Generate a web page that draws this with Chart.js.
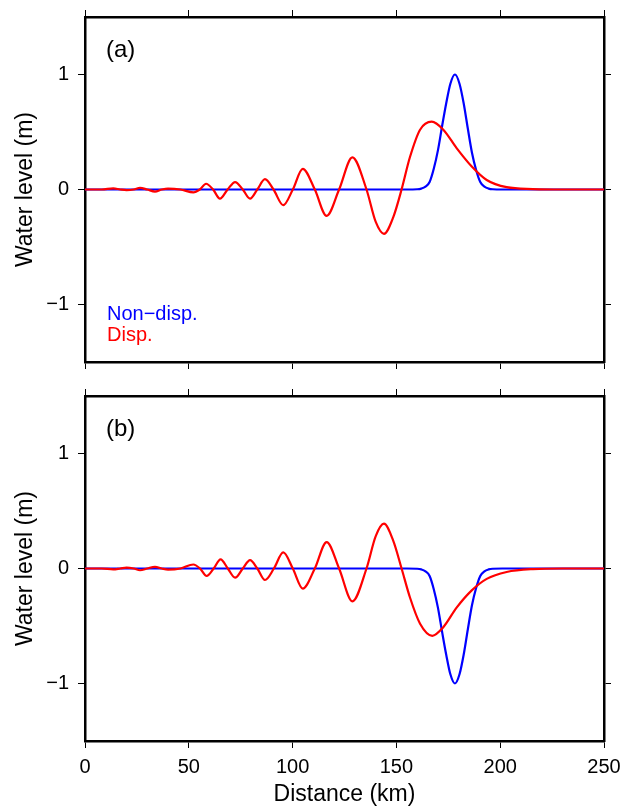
<!DOCTYPE html>
<html lang="en">
<head>
<meta charset="UTF-8">
<title>Water level - dispersive vs non-dispersive</title>
<script src="https://cdn.jsdelivr.net/npm/chart.js"></script>
<style>
  body { margin: 0; background: #fff; }
  .panel { position: absolute; left: 0; width: 622px; }
</style>
</head>
<body>
<div class="panel" style="top:0;height:385px"><canvas id="chartA" width="622" height="385"></canvas></div>
<div class="panel" style="top:385px;height:421px"><canvas id="chartB" width="622" height="421"></canvas></div>
<script>
// axis ticks
const xTicks = [0, 50, 100, 150, 200, 250];
const yTicks = [-1, 0, 1];

// non-dispersive wave, same distances in both panels
const nonDispKm     = [0, 155, 160,   162,   164,   166,   168,  170,  172,  174,  176,  178.2, 180.4, 182.4, 184.4, 186.4, 188.4, 190.4,  192.4,  194.4,  196.4,  201, 250];
const nonDispLevelA = [0, 0,   0.002, 0.008, 0.025, 0.065, 0.18, 0.34, 0.55, 0.75, 0.92, 1,     0.92,  0.75,  0.53,  0.32,  0.17,  0.065,  0.025,  0.008,  0.002,  0,   0];
const nonDispLevelB = [0, 0,  -0.002,-0.008,-0.025,-0.065,-0.18,-0.34,-0.55,-0.75,-0.92,-1,    -0.92, -0.75, -0.53, -0.32, -0.17, -0.065, -0.025, -0.008, -0.002,  0,   0];

// dispersive wave, panel (a)
const dispKmA = [0, 8, 13.6, 17, 20, 23.5, 26.5, 30, 33.7, 37, 40, 46,
                 52.2, 55.3, 58.3, 61.7, 65, 68.7, 72.3, 76, 79.5, 83, 86.7, 90.8,
                 95.5, 100.1, 104.9, 110.7, 116.4, 122.4, 128.8, 135.6, 140, 144, 148.5, 152.5,
                 156.5, 161.4, 167, 172.6, 179, 186.3, 193.5, 203.1, 215.8, 230, 250];
const dispLevelA = [0, 0, 0.01, 0, -0.006, 0, 0.015, 0, -0.018, 0, 0.008, 0,
                    -0.025, 0, 0.05, 0, -0.08, 0, 0.065, 0, -0.08, 0, 0.09, 0,
                    -0.136, 0, 0.18, 0, -0.23, 0, 0.28, 0, -0.28, -0.385, -0.24, 0,
                    0.28, 0.52, 0.59, 0.52, 0.36, 0.2, 0.083, 0.02, 0.004, 0, 0];

// dispersive wave, panel (b)
const dispKmB = [0, 8, 13.6, 17, 20, 23.5, 26.5, 30, 33.7, 37, 40, 46,
                 52.2, 55.4, 58.6, 62, 65.3, 68.8, 72.3, 76, 79.5, 83, 86.7, 91,
                 95.5, 100.1, 104.9, 110.7, 116.4, 122.4, 128.8, 135.6, 140, 144, 148.5, 152.5,
                 156.5, 161.4, 167.3, 172.6, 179, 186.3, 193.5, 203.1, 215.8, 230, 250];
const dispLevelB = [0, 0, -0.008, 0, 0.008, 0, -0.015, 0, 0.015, 0, -0.01, 0,
                    0.035, 0, -0.065, 0, 0.08, 0, -0.08, 0, 0.073, 0, -0.1, 0,
                    0.14, 0, -0.175, 0, 0.23, 0, -0.285, 0, 0.28, 0.39, 0.24, 0,
                    -0.25, -0.48, -0.585, -0.51, -0.34, -0.19, -0.09, -0.03, -0.005, 0, 0];

const FONT = '"Liberation Sans", Arial, Helvetica, sans-serif';
Chart.defaults.font.family = FONT;
Chart.defaults.color = '#000';

function pts(xs, ys) {
    return xs.map((x, i) => ({ x: x, y: ys[i] }));
}

// panel label and the coloured text legend
const panelText = {
    id: 'panelText',
    afterDraw(chart, args, opts) {
        const ctx = chart.ctx, a = chart.chartArea;
        ctx.save();
        ctx.textBaseline = 'alphabetic';
        ctx.textAlign = 'left';
        ctx.fillStyle = '#000';
        ctx.font = '24px ' + FONT;
        ctx.fillText(opts.label, a.left + 21, a.top + 40);
        if (opts.legend) {
            ctx.font = '20px ' + FONT;
            ctx.fillStyle = '#0000ff';
            ctx.fillText('Non\u2212disp.', a.left + 22, a.top + 303);
            ctx.fillStyle = '#ff0000';
            ctx.fillText('Disp.', a.left + 22, a.top + 324);
        }
        ctx.restore();
    }
};

function axis(pos, lo, hi, tickVals, size, showLabels, title) {
    const horiz = pos === 'top' || pos === 'bottom';
    return {
        type: 'linear',
        position: pos,
        min: lo,
        max: hi,
        afterBuildTicks: s => { s.ticks = tickVals.map(v => ({ value: v })); },
        afterFit: s => {
            if (horiz) s.height = size; else s.width = size;
            s.paddingTop = 0; s.paddingBottom = 0; s.paddingLeft = 0; s.paddingRight = 0;
        },
        ticks: {
            display: showLabels,
            font: { size: 20 },
            padding: horiz ? 7 : 9,
            maxRotation: 0,
            autoSkip: false,
            callback: v => String(v).replace('-', '\u2212')
        },
        grid: { drawOnChartArea: false, drawTicks: true, tickLength: 7, color: '#000', lineWidth: 1 },
        border: { display: true, color: '#000', width: 2.5 },
        title: title ? {
            display: true,
            text: title,
            font: { size: 23, lineHeight: 1 },
            padding: horiz ? { top: 0, bottom: 0 } : { top: 14.5, bottom: 0 }
        } : { display: false }
    };
}

function makePanel(id, label, legend, red, blue, topH, bottomH, showX) {
    new Chart(document.getElementById(id), {
        type: 'line',
        data: {
            datasets: [
                { label: 'Disp.', data: red, borderColor: '#ff0000', borderWidth: 2.2,
                  pointRadius: 0, fill: false, cubicInterpolationMode: 'monotone' },
                { label: 'Non-disp.', data: blue, borderColor: '#0000ff', borderWidth: 2.2,
                  pointRadius: 0, fill: false, cubicInterpolationMode: 'monotone' }
            ]
        },
        options: {
            responsive: false,
            animation: false,
            layout: { padding: 0 },
            scales: {
                x: axis('bottom', 0, 250, xTicks, bottomH, showX, showX ? 'Distance (km)' : null),
                x2: axis('top', 0, 250, xTicks, topH, false, null),
                y: axis('left', -1.5, 1.5, yTicks, 85, true, 'Water level (m)'),
                y2: axis('right', -1.5, 1.5, yTicks, 18, false, null)
            },
            plugins: {
                legend: { display: false },
                tooltip: { enabled: false },
                panelText: { label: label, legend: legend }
            }
        },
        plugins: [panelText]
    });
}

makePanel('chartA', '(a)', true, pts(dispKmA, dispLevelA), pts(nonDispKm, nonDispLevelA), 17, 23, false);
makePanel('chartB', '(b)', false, pts(dispKmB, dispLevelB), pts(nonDispKm, nonDispLevelB), 11, 65, true);
</script>
</body>
</html>
